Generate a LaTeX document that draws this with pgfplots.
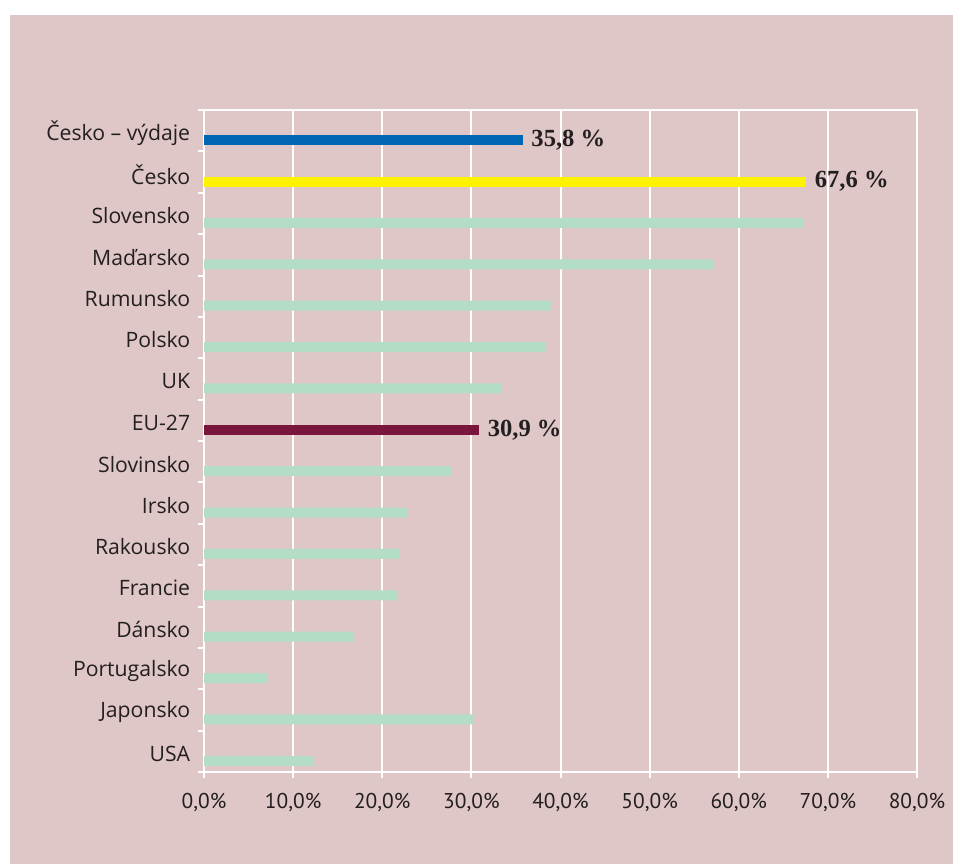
\documentclass[border=0pt]{standalone}
\usepackage{fontspec}
\setmainfont{PT Sans}
\newfontfamily\lblfont{Liberation Serif}
\newfontfamily\catfont{Open Sans}
\usepackage{pgfplots}
\pgfplotsset{compat=1.18}
\definecolor{bgpink}{HTML}{DFC6C7}
\definecolor{bargreen}{HTML}{B3DDC4}
\definecolor{barblue}{HTML}{0066B3}
\definecolor{baryellow}{HTML}{FFF200}
\definecolor{barmaroon}{HTML}{7A163C}
\definecolor{txt}{HTML}{231F20}
\begin{document}
\begin{tikzpicture}
\fill[white] (0,0) rectangle (476.5pt,432pt);
\fill[bgpink] (5pt,0) rectangle (476.5pt,424.5pt);
\begin{axis}[
  at={(102pt,46pt)}, anchor=south west,
  scale only axis, width=356.5pt, height=331pt,
  xmin=0, xmax=80, ymin=0.5, ymax=16.5, y dir=reverse,
  axis line style={white, line width=1pt},
  xbar, bar width=5pt, bar shift=0pt,
  tick pos=left,
  xtick={0,10,...,80},
  xticklabels={{0,0\%},{10,0\%},{20,0\%},{30,0\%},{40,0\%},{50,0\%},{60,0\%},{70,0\%},{80,0\%}},
  xmajorgrids=true,
  major grid style={white, line width=1pt},
  tick align=outside,
  major tick length=3pt,
  xtick style={white, line width=1pt},
  ytick={0.5,1.5,...,16.5},
  yticklabels={},
  ytick style={white, line width=1pt},
  extra y ticks={1,2,...,16},
  extra y tick labels={Česko – výdaje, Česko, Slovensko, Maďarsko, Rumunsko, Polsko, UK, EU-27, Slovinsko, Irsko, Rakousko, Francie, Dánsko, Portugalsko, Japonsko, USA},
  extra y tick style={major tick length=0pt, ymajorgrids=false, yticklabel style={xshift=-3.4pt, yshift=-1.2pt, font=\catfont\fontsize{10.6}{12}\selectfont}},
  ticklabel style={font=\fontsize{10.7}{12}\selectfont, text=txt},
  xticklabel style={yshift=-4pt},
  /pgf/number format/.cd, fixed, fixed zerofill, precision=1, use comma, assume math mode=true,
  /pgfplots/.cd,
  every node near coord/.append style={font=\lblfont\bfseries\fontsize{12.3}{14}\selectfont, text=txt, inner sep=4pt},
]
\addplot[fill=bargreen, draw=none] coordinates {
 (67.2,3.23) (57.2,4.23) (38.9,5.23) (38.4,6.23) (33.3,7.23)
 (27.7,9.23) (22.8,10.23) (21.9,11.23) (21.7,12.23) (16.7,13.23)
 (7.1,14.23) (30.2,15.23) (12.3,16.23)};
\addplot[fill=barblue, draw=none, nodes near coords={\pgfmathprintnumber{\pgfplotspointmeta}~\%}, point meta=x] coordinates {(35.8,1.23)};
\addplot[fill=baryellow, draw=none, nodes near coords={\pgfmathprintnumber{\pgfplotspointmeta}~\%}, point meta=x] coordinates {(67.6,2.23)};
\addplot[fill=barmaroon, draw=none, nodes near coords={\pgfmathprintnumber{\pgfplotspointmeta}~\%}, point meta=x] coordinates {(30.9,8.23)};
\end{axis}
\end{tikzpicture}
\end{document}
